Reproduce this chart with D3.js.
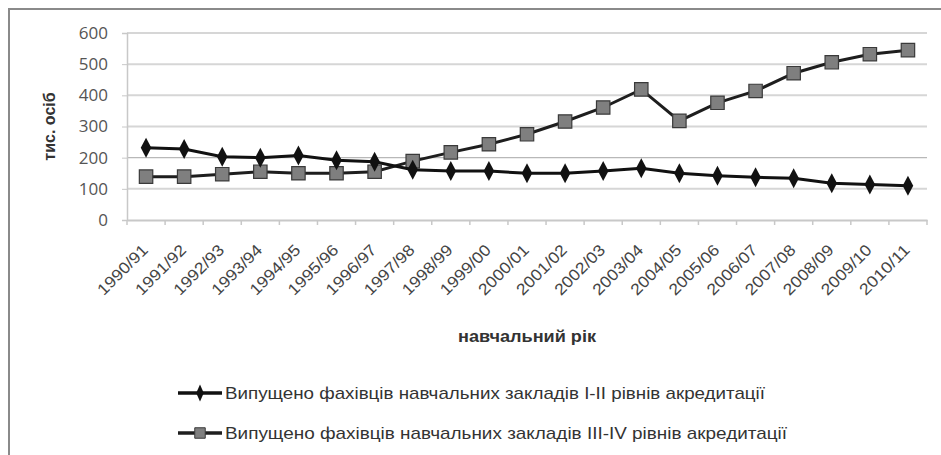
<!DOCTYPE html>
<html lang="uk">
<head>
  <meta charset="UTF-8">
  <title>chart</title>
  <script src="https://d3js.org/d3.v7.min.js" charset="utf-8"></script>
  <style>
    body { margin: 0; background: #fff; }
    text { font-family: "Liberation Sans Narrow", "Liberation Sans", Arial, sans-serif; }
  </style>
</head>
<body>
</body>
<script>
  // навчальні роки
  let years = ['1990/91','1991/92','1992/93','1993/94','1994/95','1995/96','1996/97','1997/98','1998/99','1999/00',
    '2000/01','2001/02','2002/03','2003/04','2004/05','2005/06','2006/07','2007/08','2008/09','2009/10','2010/11']
  // тис. осіб
  let levelsI_II = [232, 228, 203, 200, 207, 192, 187, 161, 157, 157, 150, 150, 157, 166, 150, 142, 137, 134, 118, 114, 110]
  let levelsIII_IV = [139, 139, 147, 155, 150, 150, 155, 189, 217, 243, 275, 316, 361, 419, 318, 376, 414, 471, 506, 532, 545]
  let yTicks = [0, 100, 200, 300, 400, 500, 600]
  let seriesNames = ['Випущено фахівців навчальних закладів I-II рівнів акредитації',
    'Випущено фахівців навчальних закладів III-IV  рівнів акредитації']

  const W = 941, H = 455
  const pLeft = 127, pRight = 927, pTop = 33, pBottom = 220

  const svg = d3.select('body').append('svg').attr('width', W).attr('height', H)

  // рамка
  svg.append('rect').attr('x', 9).attr('y', 9).attr('width', W + 20).attr('height', H + 20)
    .attr('fill', 'none').attr('stroke', '#8a8a8a').attr('stroke-width', 2)

  const x = d3.scaleBand().domain(years).range([pLeft, pRight])
  const y = d3.scaleLinear().domain([0, 600]).range([pBottom, pTop])

  // сітка
  svg.append('g').selectAll('line').data(yTicks.filter(d => d > 0)).enter().append('line')
    .attr('x1', pLeft).attr('x2', pRight)
    .attr('y1', d => y(d)).attr('y2', d => y(d))
    .attr('stroke', d => d === 200 ? '#b8b8b8' : '#d6d6d6')
    .attr('stroke-width', d => d === 200 ? 1.2 : 2)

  // вісь Y
  const yAxis = svg.append('g').attr('transform', 'translate(' + pLeft + ',0)')
    .call(d3.axisLeft(y).tickValues(yTicks).tickSize(5).tickPadding(14))
  yAxis.select('.domain').attr('stroke', '#c8c8c8').attr('stroke-width', 1.5)
  yAxis.selectAll('.tick line').attr('stroke', '#c8c8c8')
  yAxis.selectAll('text').attr('fill', '#555').style('font-family', '"Open Sans", sans-serif')
    .attr('font-size', 17)

  // вісь X
  const xAxis = svg.append('g').attr('transform', 'translate(0,' + pBottom + ')')
    .call(d3.axisBottom(x).tickSize(0).tickFormat(''))
  xAxis.select('.domain').attr('stroke', '#c8c8c8').attr('stroke-width', 2)
  svg.append('g').selectAll('line').data(d3.range(years.length + 1)).enter().append('line')
    .attr('x1', i => pLeft + i * x.step()).attr('x2', i => pLeft + i * x.step())
    .attr('y1', pBottom).attr('y2', pBottom + 5)
    .attr('stroke', '#c8c8c8').attr('stroke-width', 1.5)

  svg.append('g').selectAll('text').data(years).enter().append('text')
    .attr('transform', d => 'translate(' + (x(d) + x.bandwidth() / 2 - 1) + ',' + (pBottom + 27) + ') rotate(-45)')
    .attr('text-anchor', 'end')
    .attr('dy', '0.35em')
    .attr('font-size', 16)
    .attr('fill', '#444')
    .attr('textLength', 64)
    .attr('lengthAdjust', 'spacingAndGlyphs')
    .text(d => d)

  // підписи осей
  svg.append('text')
    .attr('transform', 'translate(55,' + ((pTop + pBottom) / 2) + ') rotate(-90)')
    .attr('text-anchor', 'middle')
    .attr('font-size', 16).attr('font-weight', 'bold').attr('fill', '#333')
    .text('тис. осіб')
  svg.append('text')
    .attr('x', (pLeft + pRight) / 2).attr('y', 342)
    .attr('text-anchor', 'middle')
    .attr('font-size', 17).attr('font-weight', 'bold').attr('fill', '#333')
    .attr('textLength', 138)
    .attr('lengthAdjust', 'spacingAndGlyphs')
    .text('навчальний рік')

  const lineGen = d3.line()
    .x((d, i) => x(years[i]) + x.bandwidth() / 2)
    .y(d => y(d))

  const diamond = d3.symbol().type(d3.symbolDiamond).size(80)
  const square = d3.symbol().type(d3.symbolSquare).size(180)

  // серія III-IV
  svg.append('path').attr('d', lineGen(levelsIII_IV))
    .attr('fill', 'none').attr('stroke', '#1e1e1e').attr('stroke-width', 3)
  svg.append('g').selectAll('path').data(levelsIII_IV).enter().append('path')
    .attr('d', square)
    .attr('transform', (d, i) => 'translate(' + (x(years[i]) + x.bandwidth() / 2) + ',' + y(d) + ')')
    .attr('fill', '#7f7f7f').attr('stroke', '#3a3a3a').attr('stroke-width', 1.2)

  // серія I-II
  svg.append('path').attr('d', lineGen(levelsI_II))
    .attr('fill', 'none').attr('stroke', '#111').attr('stroke-width', 3)
  svg.append('g').selectAll('path').data(levelsI_II).enter().append('path')
    .attr('d', diamond)
    .attr('transform', (d, i) => 'translate(' + (x(years[i]) + x.bandwidth() / 2) + ',' + y(d) + ') scale(1.1,1.2)')
    .attr('fill', '#111')

  // легенда
  const legendDiamond = d3.symbol().type(d3.symbolDiamond).size(50)
  const legendSquare = d3.symbol().type(d3.symbolSquare).size(110)
  const legend = svg.append('g').selectAll('g').data(seriesNames).enter().append('g')
    .attr('transform', (d, i) => 'translate(178,' + (393 + i * 40) + ')')
  legend.append('line').attr('x1', 0).attr('x2', 44).attr('y1', 0).attr('y2', 0)
    .attr('stroke', (d, i) => i === 0 ? '#111' : '#1e1e1e').attr('stroke-width', 3.5)
  legend.append('path')
    .attr('d', (d, i) => i === 0 ? legendDiamond() : legendSquare())
    .attr('transform', (d, i) => 'translate(22,0)' + (i === 0 ? ' scale(1,1.3)' : ''))
    .attr('fill', (d, i) => i === 0 ? '#111' : '#7f7f7f')
    .attr('stroke', (d, i) => i === 0 ? 'none' : '#3a3a3a')
  legend.append('text')
    .attr('x', 47).attr('dy', '0.35em')
    .attr('font-size', 17).attr('fill', '#333')
    .attr('textLength', (d, i) => i === 0 ? 540 : 562)
    .attr('lengthAdjust', 'spacingAndGlyphs')
    .text(d => d)
</script>
</html>
